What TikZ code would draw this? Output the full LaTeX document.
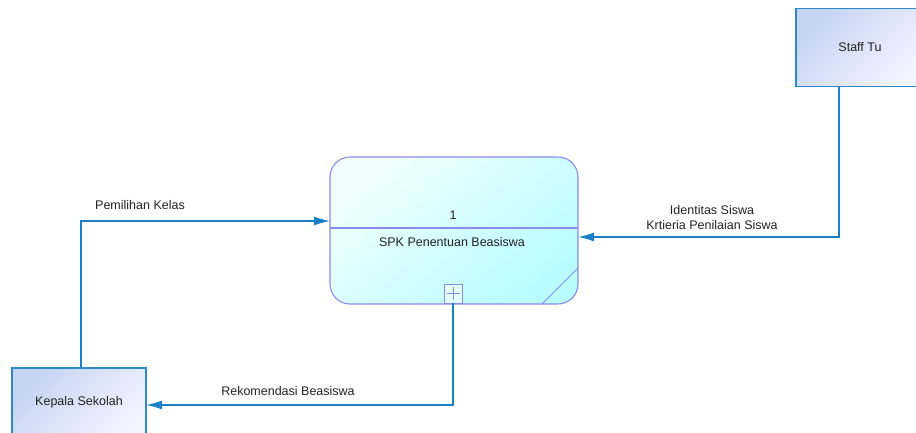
\documentclass[tikz,border=0pt]{standalone}
\usepackage{fontspec}
\setmainfont{Liberation Sans}
\usetikzlibrary{arrows.meta}
\definecolor{flow}{HTML}{1A80C8}
\definecolor{procline}{HTML}{8A8AF0}
\definecolor{entline}{HTML}{2A8AD0}
\definecolor{txt}{HTML}{222222}
\definecolor{cEntA}{HTML}{C6D4F2}
\definecolor{cEntB}{HTML}{F2F4FF}
\definecolor{cProc}{HTML}{B8FCFF}
\tikzset{
  lbl/.style={text=txt, font=\fontsize{12.5}{15}\selectfont, inner sep=0pt},
  flowline/.style={draw=flow, line width=1.4pt, -{Latex[length=16pt,width=9pt]}},
  entity/.style={draw=entline, line width=1.3pt, outer sep=0pt, shade, top color=cEntA, bottom color=cEntB, shading angle=45, inner sep=0pt, text=txt, font=\fontsize{12.5}{15}\selectfont},
  process/.style={draw=procline, line width=1.1pt, outer sep=0pt, rounded corners=20pt, shade, top color=white!80!cProc, bottom color=cProc, shading angle=40, inner sep=0pt},
}
\begin{document}
\begin{tikzpicture}[x=1pt,y=-1pt]
\useasboundingbox (0,0) rectangle (916,432);
\clip (0,0) rectangle (916,432);
% process
\node[process, minimum width=248pt, minimum height=147pt] (proc) at (454,230.5) {};
\draw[procline, line width=1.1pt] (proc.west |- 0,228) -- (proc.east |- 0,228);
\draw[procline, line width=1pt] (578,268) -- (542,304);
\node[lbl] (num) at (453,215) {1};
\node[lbl] (name) at (452,242) {SPK Penentuan Beasiswa};
\node[draw=procline, line width=1pt, outer sep=0pt, fill=white!60!cProc, minimum width=18pt, minimum height=19pt, inner sep=0pt] (plus) at (453,293.5) {};
\draw[procline, line width=1pt] (446.5,293.5) -- (459.5,293.5) (453,287) -- (453,300);
% entities
\node[entity, minimum width=128pt, minimum height=78pt] (staff) at (860,47.5) {Staff Tu};
\node[entity, minimum width=134pt, minimum height=68pt] (kepala) at (79,402) {Kepala Sekolah};
% connector points
\coordinate (s1) at (839,86.5);
\coordinate (s2) at (839,237);
\coordinate (k1) at (81,368);
\coordinate (k2) at (81,221);
\coordinate (p2) at (453,405);
% flows
\draw[flowline] (s1) -- (s2) -- (proc.east |- s2);
\draw[flowline] (k1) -- (k2) -- (proc.west |- k2);
\draw[flowline] (plus.south) -- (p2) -- (kepala.east |- p2);
% labels
\node[lbl] (l1) at (140,205) {Pemilihan Kelas};
\node[lbl] (l2) at (712,210.5) {Identitas Siswa};
\node[lbl] (l3) at (712,225.5) {Krtieria Penilaian Siswa};
\node[lbl] (l4) at (288,391) {Rekomendasi Beasiswa};
\end{tikzpicture}
\end{document}
